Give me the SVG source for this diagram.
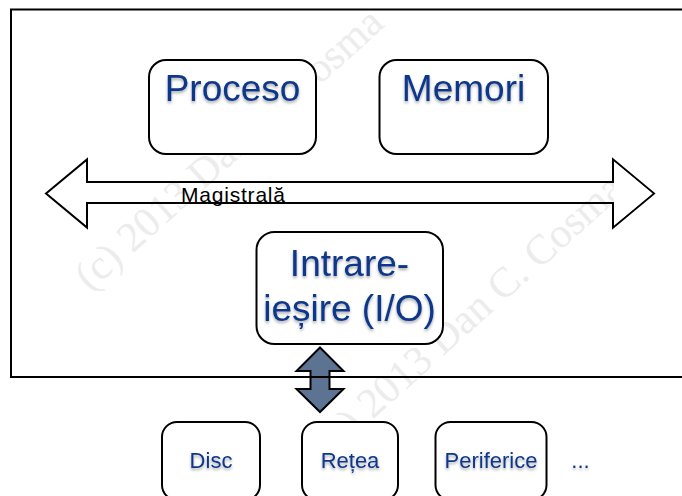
<svg xmlns="http://www.w3.org/2000/svg" width="682" height="496" viewBox="0 0 682 496">
  <defs>
    <filter id="tshadow" x="-10%" y="-20%" width="120%" height="150%">
      <feDropShadow dx="0" dy="2" stdDeviation="1.6" flood-color="#000" flood-opacity="0.35"/>
    </filter>
    <style>
      .box { fill: #ffffff; stroke: #000000; stroke-width: 2; }
      .big { font-family: "Liberation Sans", Arial, sans-serif; font-size: 37px; fill: #10378a; text-anchor: middle; filter: url(#tshadow); }
      .small { font-family: "Liberation Sans", Arial, sans-serif; font-size: 22px; fill: #10378a; text-anchor: middle; filter: url(#tshadow); }
      .wm { font-family: "Liberation Serif", "Times New Roman", serif; font-size: 42px; fill: #ececec; }
      .frame { fill: none; stroke: #000000; stroke-width: 2; }
    </style>
  </defs>
  <rect width="682" height="496" fill="#ffffff"/>

  <g id="watermark">
    <text class="wm" transform="translate(90,292) rotate(-42)">(c) 2013 Dan C. Cosma</text>
    <text class="wm" transform="translate(330,458) rotate(-42)">(c) 2013 Dan C. Cosma</text>
  </g>

  <g id="connectors">
    <path id="bus" d="M46,193.5 L87,159.5 L87,182 L613,182 L613,159.5 L654,193.5 L613,227.5 L613,203 L87,203 L87,227.5 Z" fill="none" stroke="#000000" stroke-width="2" stroke-linejoin="miter"/>
    <path d="M614,161.5 L652.5,193.5 L614,225.5 Z" fill="#ffffff" stroke="none"/>
    <path id="io-link" d="M320,347.5 L343.5,371 L329.5,371 L329.5,389 L343.5,389 L320,412 L296.5,389 L310.5,389 L310.5,371 L296.5,371 Z" fill="#5d7392" stroke="#000000" stroke-width="2" stroke-linejoin="miter"/>
  </g>

  <text id="bus-label" x="181" y="201.5" font-family="Liberation Sans, Arial, sans-serif" font-size="21" fill="#000000" textLength="104" lengthAdjust="spacing">Magistrală</text>

  <rect id="frame" class="frame" x="11" y="9.5" width="690" height="367.5"/>

  <g id="procesor">
    <rect class="box" x="149" y="60" width="167" height="94" rx="17"/>
    <text class="big" x="232.5" y="100.5">Proceso</text>
  </g>
  <g id="memorie">
    <rect class="box" x="379.5" y="60" width="168.5" height="94" rx="17"/>
    <text class="big" x="463.5" y="100.5">Memori</text>
  </g>
  <g id="io">
    <rect class="box" x="256.5" y="232" width="186.5" height="112" rx="18"/>
    <text class="big" x="349.5" y="276">Intrare-</text>
    <text class="big" x="349.5" y="321">ieșire (I/O)</text>
  </g>
  <g id="disc">
    <rect class="box" x="162" y="422" width="98" height="78" rx="15"/>
    <text class="small" x="211" y="468">Disc</text>
  </g>
  <g id="retea">
    <rect class="box" x="302" y="422" width="96" height="78" rx="15"/>
    <text class="small" x="350" y="468">Rețea</text>
  </g>
  <g id="periferice">
    <rect class="box" x="435.5" y="422" width="111" height="78" rx="15"/>
    <text class="small" x="491" y="468">Periferice</text>
  </g>
  <g id="etc">
    <text class="small" x="580.5" y="468">...</text>
  </g>
</svg>
